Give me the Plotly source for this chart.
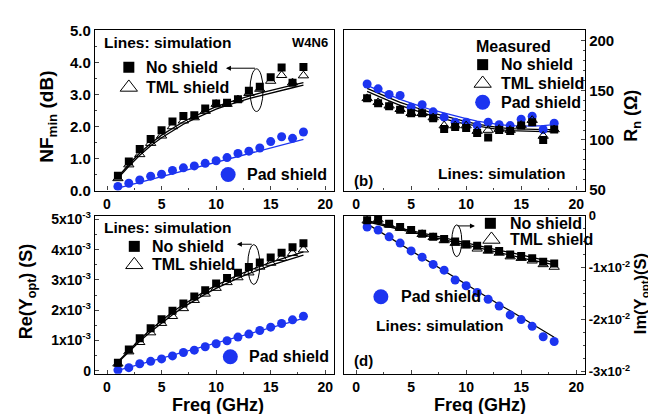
import plotly.graph_objects as go

# ---------------- data ----------------
freq = list(range(1, 19))

# (a) NFmin (dB)
nf_no = [0.46, 0.91, 1.30, 1.61, 1.88, 2.16, 2.33, 2.35, 2.56, 2.72, 2.74, 2.85, 3.12, 3.24, 3.54, 3.84, 3.37, 3.86]
nf_tml = [0.38, 0.81, 1.13, 1.48, 1.71, 2.00, 2.18, 2.28, 2.48, 2.70, 2.70, 2.84, 3.04, 3.17, 3.42, 3.60, 3.37, 3.59]
nf_pad = [0.13, 0.23, 0.33, 0.45, 0.51, 0.63, 0.71, 0.77, 0.85, 0.93, 1.03, 1.16, 1.23, 1.33, 1.53, 1.68, 1.63, 1.83]
nf_sim_no = [0.42, 0.82, 1.17, 1.47, 1.73, 1.95, 2.15, 2.32, 2.48, 2.62, 2.74, 2.85, 2.95, 3.04, 3.13, 3.21, 3.29, 3.37]
nf_sim_tml = [0.38, 0.76, 1.10, 1.40, 1.65, 1.87, 2.07, 2.24, 2.40, 2.54, 2.66, 2.77, 2.87, 2.96, 3.05, 3.13, 3.21, 3.29]
nf_sim_pad = [0.08, 0.17, 0.26, 0.35, 0.44, 0.53, 0.62, 0.71, 0.80, 0.89, 0.98, 1.07, 1.16, 1.25, 1.34, 1.43, 1.52, 1.60]

# (b) Rn (Ohm)
rn_no = [142, 137, 134, 130.6, 127, 127, 122, 111, 113, 112, 107, 102.6, 110, 109, 114.5, 118, 100, 110.6]
rn_tml = [142, 138, 134.5, 131, 127, 127, 122.6, 114.5, 114.5, 114.5, 109, 110, 111, 110, 115, 120, 104, 110.6]
rn_pad = [156.5, 151.6, 146, 145, 133, 135.5, 128.4, 123, 118, 118, 114.5, 118, 115.5, 114.5, 121, 124, 110.6, 117]
rn_sim_pad = [155, 150, 145.5, 141, 137, 133.5, 130, 127, 124, 121.5, 119, 117, 115.5, 114.5, 114, 114, 114.5, 115.5]
rn_sim_no = [152, 147, 142.5, 138, 134, 130.5, 127, 124, 121, 118.5, 116, 114, 112.5, 111.5, 111, 110.5, 110.5, 110.5]
rn_sim_tml = [149, 144, 139.5, 135, 131, 127.5, 124, 121, 118.5, 116, 114, 112, 110.5, 109.5, 109, 108.5, 108.5, 108.5]

# (c) Re(Yopt) (S)
re_no = [0.26e-3, 0.70e-3, 1.07e-3, 1.40e-3, 1.70e-3, 1.98e-3, 2.22e-3, 2.45e-3, 2.66e-3, 2.88e-3, 3.06e-3, 3.24e-3, 3.43e-3, 3.58e-3, 3.74e-3, 3.90e-3, 4.08e-3, 4.21e-3]
re_tml = [0.23e-3, 0.63e-3, 0.94e-3, 1.26e-3, 1.57e-3, 1.80e-3, 2.06e-3, 2.33e-3, 2.54e-3, 2.73e-3, 2.92e-3, 3.08e-3, 3.24e-3, 3.43e-3, 3.56e-3, 3.72e-3, 3.88e-3, 4.00e-3]
re_pad = [0.02e-3, 0.10e-3, 0.23e-3, 0.31e-3, 0.39e-3, 0.49e-3, 0.60e-3, 0.68e-3, 0.79e-3, 0.89e-3, 0.99e-3, 1.11e-3, 1.21e-3, 1.33e-3, 1.44e-3, 1.56e-3, 1.68e-3, 1.80e-3]
re_sim_no = [0.30e-3, 0.68e-3, 1.03e-3, 1.36e-3, 1.66e-3, 1.94e-3, 2.19e-3, 2.42e-3, 2.63e-3, 2.82e-3, 3.00e-3, 3.16e-3, 3.31e-3, 3.45e-3, 3.58e-3, 3.70e-3, 3.82e-3, 3.93e-3]
re_sim_tml = [0.27e-3, 0.63e-3, 0.97e-3, 1.29e-3, 1.58e-3, 1.85e-3, 2.10e-3, 2.32e-3, 2.53e-3, 2.72e-3, 2.90e-3, 3.06e-3, 3.21e-3, 3.35e-3, 3.48e-3, 3.60e-3, 3.71e-3, 3.82e-3]
re_sim_pad = [0.01e-3, 0.11e-3, 0.21e-3, 0.31e-3, 0.41e-3, 0.51e-3, 0.61e-3, 0.71e-3, 0.81e-3, 0.91e-3, 1.01e-3, 1.11e-3, 1.21e-3, 1.31e-3, 1.41e-3, 1.51e-3, 1.62e-3, 1.74e-3]

# (d) Im(Yopt) (S)
im_no = [-0.09e-2, -0.08e-2, -0.16e-2, -0.22e-2, -0.28e-2, -0.35e-2, -0.41e-2, -0.45e-2, -0.50e-2, -0.55e-2, -0.58e-2, -0.65e-2, -0.68e-2, -0.75e-2, -0.78e-2, -0.82e-2, -0.89e-2, -0.92e-2]
im_tml = [-0.10e-2, -0.08e-2, -0.18e-2, -0.24e-2, -0.30e-2, -0.36e-2, -0.42e-2, -0.48e-2, -0.53e-2, -0.58e-2, -0.64e-2, -0.68e-2, -0.72e-2, -0.79e-2, -0.82e-2, -0.87e-2, -0.94e-2, -0.99e-2]
im_pad = [-0.22e-2, -0.28e-2, -0.41e-2, -0.53e-2, -0.68e-2, -0.80e-2, -0.94e-2, -1.05e-2, -1.24e-2, -1.35e-2, -1.48e-2, -1.61e-2, -1.74e-2, -1.91e-2, -2.00e-2, -2.13e-2, -2.33e-2, -2.42e-2]
im_sim_no = [-0.10e-2, -0.15e-2, -0.19e-2, -0.24e-2, -0.29e-2, -0.34e-2, -0.38e-2, -0.43e-2, -0.48e-2, -0.52e-2, -0.57e-2, -0.62e-2, -0.67e-2, -0.71e-2, -0.76e-2, -0.81e-2, -0.85e-2, -0.90e-2]
im_sim_tml = [-0.12e-2, -0.17e-2, -0.22e-2, -0.27e-2, -0.32e-2, -0.37e-2, -0.41e-2, -0.46e-2, -0.51e-2, -0.56e-2, -0.61e-2, -0.66e-2, -0.71e-2, -0.76e-2, -0.81e-2, -0.86e-2, -0.90e-2, -0.95e-2]
im_sim_pad = [-0.16e-2, -0.29e-2, -0.42e-2, -0.55e-2, -0.68e-2, -0.81e-2, -0.94e-2, -1.07e-2, -1.19e-2, -1.32e-2, -1.45e-2, -1.58e-2, -1.71e-2, -1.83e-2, -1.96e-2, -2.09e-2, -2.21e-2, -2.34e-2]

x_ticks = [0, 5, 10, 15, 20]
nf_ticks = [0, 1, 2, 3, 4, 5]
nf_ticktext = ["0.0", "1.0", "2.0", "3.0", "4.0", "5.0"]
rn_ticks = [50, 100, 150, 200]
re_ticks = [0, 1e-3, 2e-3, 3e-3, 4e-3, 5e-3]
re_ticktext = ["0", "1x10<sup>-3</sup>", "2x10<sup>-3</sup>", "3x10<sup>-3</sup>", "4x10<sup>-3</sup>", "5x10<sup>-3</sup>"]
im_ticks = [0, -1e-2, -2e-2, -3e-2]
im_ticktext = ["0", "-1x10<sup>-2</sup>", "-2x10<sup>-2</sup>", "-3x10<sup>-2</sup>"]

# ---------------- style ----------------
BLUE = "rgb(28,52,240)"
FONT = "Liberation Sans, Arial, sans-serif"
W, H = 656, 414

def px_x(a, b):
    return [a / W, b / W]

def px_y(top, bottom):
    return [1 - bottom / H, 1 - top / H]

fig = go.Figure()

sq = dict(symbol="square", size=8, color="black", line=dict(width=0))
tri = dict(symbol="triangle-up-open", size=9, color="black", line=dict(width=1, color="black"))
cir = dict(symbol="circle", size=9, color=BLUE, line=dict(width=0))

def add_panel(xa, ya, sims, meas):
    for yv, col in sims:
        fig.add_trace(go.Scatter(x=freq, y=yv, mode="lines", line=dict(color=col, width=1.3),
                                 xaxis=xa, yaxis=ya, showlegend=False, hoverinfo="skip"))
    for yv, mk in meas:
        fig.add_trace(go.Scatter(x=freq, y=yv, mode="markers", marker=mk,
                                 xaxis=xa, yaxis=ya, showlegend=False))

add_panel("x", "y", [(nf_sim_no, "black"), (nf_sim_tml, "black"), (nf_sim_pad, BLUE)],
          [(nf_pad, cir), (nf_tml, tri), (nf_no, sq)])
add_panel("x2", "y2", [(rn_sim_no, "black"), (rn_sim_tml, "black"), (rn_sim_pad, BLUE)],
          [(rn_pad, cir), (rn_tml, tri), (rn_no, sq)])
add_panel("x3", "y3", [(re_sim_no, "black"), (re_sim_tml, "black"), (re_sim_pad, BLUE)],
          [(re_pad, cir), (re_tml, tri), (re_no, sq)])
add_panel("x4", "y4", [(im_sim_no, "black"), (im_sim_tml, "black"), (im_sim_pad, "black")],
          [(im_pad, cir), (im_tml, tri), (im_no, sq)])

def glyph(xa, ya, x, y, kind):
    if kind == "sq":
        mk = dict(symbol="square", size=11, color="black")
    elif kind == "tri":
        mk = dict(symbol="triangle-up-open", size=15, color="black", line=dict(width=1, color="black"))
    else:
        mk = dict(symbol="circle", size=15, color=BLUE)
    fig.add_trace(go.Scatter(x=[x], y=[y], mode="markers", marker=mk, xaxis=xa, yaxis=ya,
                             showlegend=False, hoverinfo="skip", cliponaxis=False))

glyph("x", "y", 2.0, 3.85, "sq")
glyph("x", "y", 2.0, 3.22, "tri")
glyph("x", "y", 11.1, 0.5, "cir")
glyph("x2", "y2", 11.5, 176, "sq")
glyph("x2", "y2", 11.5, 157, "tri")
glyph("x2", "y2", 11.5, 138, "cir")
glyph("x3", "y3", 2.5, 4.11e-3, "sq")
glyph("x3", "y3", 2.5, 3.50e-3, "tri")
glyph("x3", "y3", 11.3, 0.46e-3, "cir")
glyph("x4", "y4", 12.2, -0.15e-2, "sq")
glyph("x4", "y4", 12.3, -0.46e-2, "tri")
glyph("x4", "y4", 2.25, -1.56e-2, "cir")

ann = []
def txt(xa, ya, x, y, s, anchor="left", size=16):
    ann.append(dict(xref=xa, yref=ya, x=x, y=y, text=s, showarrow=False, xanchor=anchor,
                    yanchor="middle", font=dict(family=FONT, size=size, color="black")))

txt("x", "y", -0.5, 4.63, "<b>Lines: simulation</b>", size=15.5)
txt("x", "y", 20.4, 4.63, "<b>W4N6</b>", anchor="right", size=13)
txt("x", "y", 3.4, 3.85, "<b>No shield</b>")
txt("x", "y", 3.4, 3.22, "<b>TML shield</b>")
txt("x", "y", 12.6, 0.5, "<b>Pad shield</b>")
txt("x", "y", -1.2, 0.25, "<b>(a)</b>", size=15)

txt("x2", "y2", 14.3, 194, "<b>Measured</b>", anchor="center")
txt("x2", "y2", 13.0, 176, "<b>No shield</b>")
txt("x2", "y2", 13.0, 157, "<b>TML shield</b>")
txt("x2", "y2", 13.0, 138, "<b>Pad shield</b>")
txt("x2", "y2", 7.3, 66, "<b>Lines: simulation</b>", size=15.5)
txt("x2", "y2", -0.4, 59, "<b>(b)</b>", size=15)

txt("x3", "y3", -0.5, 4.75e-3, "<b>Lines: simulation</b>", size=15.5)
txt("x3", "y3", 3.9, 4.11e-3, "<b>No shield</b>")
txt("x3", "y3", 3.9, 3.50e-3, "<b>TML shield</b>")
txt("x3", "y3", 12.8, 0.46e-3, "<b>Pad shield</b>")
txt("x3", "y3", -1.2, 0.27e-3, "<b>(c)</b>", size=15)

txt("x4", "y4", 13.8, -0.15e-2, "<b>No shield</b>")
txt("x4", "y4", 13.8, -0.46e-2, "<b>TML shield</b>")
txt("x4", "y4", 3.9, -1.56e-2, "<b>Pad shield</b>")
txt("x4", "y4", 1.6, -2.12e-2, "<b>Lines: simulation</b>", size=15.5)
txt("x4", "y4", -0.4, -2.78e-2, "<b>(d)</b>", size=15)

def arrow(xa, ya, x0, y0, x1, y1):
    ann.append(dict(xref=xa, yref=ya, axref=xa, ayref=ya, x=x1, y=y1, ax=x0, ay=y0, text="",
                    showarrow=True, arrowhead=2, arrowsize=1, arrowwidth=1, arrowcolor="black"))

arrow("x", "y", 13.7, 3.82, 10.9, 3.82)
arrow("x3", "y3", 13.4, 4.18e-3, 11.9, 4.18e-3)
arrow("x4", "y4", 9.1, -0.20e-2, 10.8, -0.20e-2)

def title(x, y, s, angle, size=18):
    ann.append(dict(xref="paper", yref="paper", x=x / W, y=1 - y / H, text=s, showarrow=False,
                    textangle=angle, xanchor="center", yanchor="middle",
                    font=dict(family=FONT, size=size, color="black")))

title(40, 104, "<b>NF<sub>min</sub> (dB)</b>", -90, 19)
title(19, 286, "<b>Re(Y<sub>opt</sub>) (S)</b>", -90, 18)
title(625, 103, "<b>R<sub>n</sub> (Ω)</b>", -90, 18)
title(633, 289, "<b>Im(Y<sub>opt</sub>)(S)</b>", -90, 16.5)
title(210, 405, "<b>Freq (GHz)</b>", 0, 18)
title(472, 405, "<b>Freq (GHz)</b>", 0, 18)

shapes = [
    dict(type="circle", xref="x", yref="y", x0=13.1, x1=14.3, y0=2.47, y1=3.8, line=dict(color="black", width=1)),
    dict(type="circle", xref="x3", yref="y3", x0=12.9, x1=14.0, y0=2.85e-3, y1=4.17e-3, line=dict(color="black", width=1)),
    dict(type="circle", xref="x4", yref="y4", x0=8.7, x1=9.6, y0=-0.79e-2, y1=-0.18e-2, line=dict(color="black", width=1)),
]

tickfont = dict(family=FONT, size=14, color="black")
def xax(dom, anchor):
    return dict(domain=dom, anchor=anchor, range=[-1.1, 20.8], tickvals=x_ticks,
                ticktext=["<b>%d</b>" % v for v in x_ticks],
                ticks="inside", ticklen=4, tickwidth=1, showline=True, linecolor="black", linewidth=1.3,
                mirror=True, showgrid=False, zeroline=False, tickfont=tickfont,
                minor=dict(ticks="inside", ticklen=2, dtick=2.5, tick0=0))

def yax(dom, anchor, rng, tv, tt, side="left", minor_dt=None, size=15):
    d = dict(domain=dom, anchor=anchor, range=rng, tickvals=tv, ticktext=["<b>%s</b>" % t for t in tt],
             ticks="inside", ticklen=4, tickwidth=1, showline=True, linecolor="black", linewidth=1.3,
             mirror=True, showgrid=False, zeroline=False, tickfont=dict(family=FONT, size=size, color="black"),
             side=side)
    if minor_dt:
        d["minor"] = dict(ticks="inside", ticklen=2, dtick=minor_dt, tick0=0)
    return d

xa_l = px_x(87, 326)
xa_r = px_x(336, 577)
ya_t = px_y(14, 181)
ya_b = px_y(207, 372)

fig.update_layout(
    width=W, height=H, margin=dict(l=0, r=0, t=0, b=0),
    paper_bgcolor="white", plot_bgcolor="white", showlegend=False,
    font=dict(family=FONT, color="black"),
    xaxis=xax(xa_l, "y"),
    yaxis=yax(ya_t, "x", [0, 5], nf_ticks, nf_ticktext, minor_dt=0.5),
    xaxis2=xax(xa_r, "y2"),
    yaxis2=yax(ya_t, "x2", [49, 210.5], rn_ticks, [str(v) for v in rn_ticks], side="right", minor_dt=10),
    xaxis3=xax(xa_l, "y3"),
    yaxis3=yax(ya_b, "x3", [-0.1e-3, 5.13e-3], re_ticks, re_ticktext, minor_dt=0.5e-3, size=14),
    xaxis4=xax(xa_r, "y4"),
    yaxis4=yax(ya_b, "x4", [-0.0304, 0.0], im_ticks, im_ticktext, side="right", minor_dt=0.25e-2, size=13),
    annotations=ann, shapes=shapes,
)

fig.write_html("out.html")
